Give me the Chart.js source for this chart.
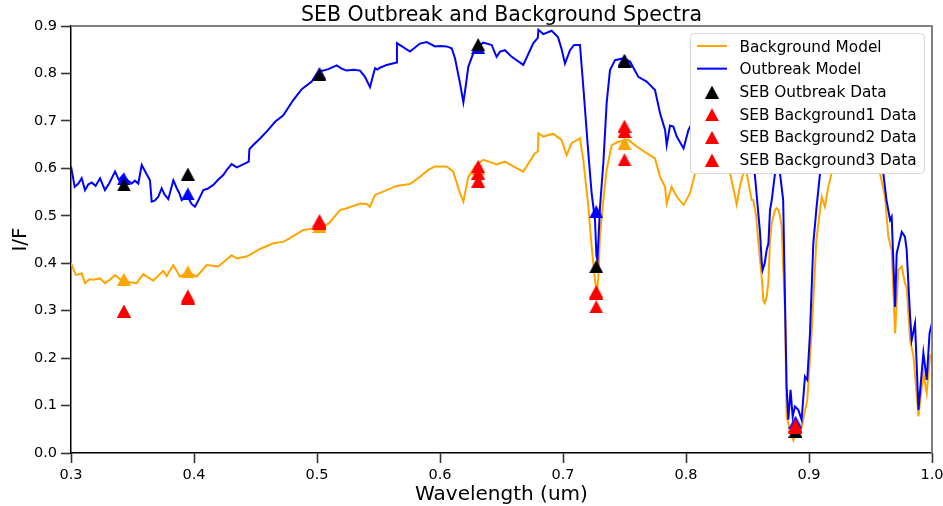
<!DOCTYPE html>
<html>
<head>
<meta charset="utf-8">
<script src="https://cdn.jsdelivr.net/npm/chart.js@4.4.1/dist/chart.umd.min.js"></script>
<style>
  body { margin: 0; background: #fff; }
  canvas { display: block; }
</style>
</head>
<body>
<canvas id="spectraChart" width="943" height="506"></canvas>
<script>
// Model spectra (wavelength in um, I/F)
const outbreakWave = [0.300, 0.303, 0.306, 0.3087, 0.3114, 0.314, 0.3168, 0.320, 0.3236, 0.3276, 0.331, 0.3358,
  0.339, 0.342, 0.346, 0.3493, 0.352, 0.3547, 0.3575, 0.360, 0.3642, 0.3656, 0.368, 0.371, 0.3737, 0.376, 0.3791,
  0.3832, 0.386, 0.388, 0.390, 0.393, 0.396, 0.398, 0.4008, 0.404, 0.4076, 0.411, 0.4157, 0.420, 0.4238, 0.427,
  0.4306, 0.4347, 0.4374, 0.4428, 0.4445, 0.445, 0.447, 0.4537, 0.460, 0.4659, 0.4726, 0.4807, 0.4876, 0.4957,
  0.5011, 0.505, 0.5092, 0.516, 0.520, 0.5241, 0.530, 0.535, 0.539, 0.5431, 0.5455, 0.5472, 0.549, 0.5512, 0.5567,
  0.5647, 0.5650, 0.5756, 0.5837, 0.5892, 0.596, 0.600, 0.6054, 0.6095, 0.6122, 0.6163, 0.619, 0.621, 0.623, 0.6285,
  0.6352, 0.642, 0.646, 0.6488, 0.6528, 0.6583, 0.6677, 0.6759, 0.6795, 0.680, 0.684, 0.6908, 0.696, 0.699, 0.7016,
  0.7057, 0.709, 0.7138, 0.7165, 0.7206, 0.7233, 0.726, 0.7272, 0.728, 0.729, 0.7301, 0.7328, 0.7355, 0.7382, 0.7423,
  0.749, 0.7545, 0.7612, 0.768, 0.7748, 0.7789, 0.783, 0.7843, 0.787, 0.7897, 0.7925, 0.798, 0.802, 0.810, 0.820,
  0.830, 0.840, 0.848, 0.853, 0.856, 0.8602, 0.8616, 0.8623, 0.864, 0.8656, 0.867, 0.8683, 0.8697, 0.8724, 0.8745,
  0.8764, 0.879, 0.8805, 0.8818, 0.8832, 0.885, 0.8867, 0.8886, 0.8913, 0.894, 0.8967, 0.8986, 0.9008, 0.9035,
  0.9062, 0.909, 0.915, 0.930, 0.945, 0.955, 0.9604, 0.963, 0.9659, 0.9672, 0.970, 0.9713, 0.9754, 0.978, 0.9794,
  0.9822, 0.9835, 0.9862, 0.989, 0.993, 0.9957, 0.998, 1.000];
const outbreakModel = [0.604, 0.561, 0.568, 0.579, 0.554, 0.566, 0.570, 0.563, 0.579, 0.554, 0.568, 0.593,
  0.575, 0.585, 0.575, 0.568, 0.574, 0.568, 0.607, 0.595, 0.575, 0.530, 0.532, 0.540, 0.558, 0.545, 0.535,
  0.575, 0.558, 0.548, 0.533, 0.538, 0.535, 0.525, 0.519, 0.535, 0.554, 0.557, 0.565, 0.577, 0.586, 0.598,
  0.609, 0.602, 0.605, 0.612, 0.614, 0.640, 0.646, 0.663, 0.680, 0.698, 0.712, 0.744, 0.767, 0.783,
  0.804, 0.806, 0.809, 0.817, 0.810, 0.806, 0.808, 0.806, 0.793, 0.771, 0.795, 0.811, 0.808, 0.812, 0.818,
  0.823, 0.864, 0.846, 0.863, 0.866, 0.857, 0.858, 0.857, 0.853, 0.832, 0.779, 0.739, 0.775, 0.814, 0.853,
  0.865, 0.860, 0.835, 0.846, 0.849, 0.835, 0.818, 0.864, 0.875, 0.892, 0.883, 0.890, 0.876, 0.850, 0.821,
  0.849, 0.860, 0.860, 0.772, 0.632, 0.547, 0.491, 0.415, 0.407, 0.460, 0.519, 0.611, 0.738, 0.807, 0.828,
  0.832, 0.825, 0.793, 0.783, 0.765, 0.716, 0.681, 0.649, 0.690, 0.688, 0.667, 0.642, 0.681, 0.720, 0.740,
  0.730, 0.700, 0.660, 0.620, 0.586, 0.464, 0.400, 0.386, 0.400, 0.428, 0.442, 0.512, 0.533, 0.590, 0.630,
  0.590, 0.533, 0.320, 0.140, 0.070, 0.133, 0.077, 0.098, 0.091, 0.070, 0.161, 0.154, 0.252, 0.442,
  0.520, 0.590, 0.660, 0.700, 0.690, 0.640, 0.590, 0.533, 0.491, 0.498, 0.308, 0.421, 0.466, 0.456, 0.428,
  0.287, 0.238, 0.273, 0.091, 0.211, 0.154, 0.252, 0.274];

const backgroundWave = [0.300, 0.304, 0.3087, 0.3114, 0.315, 0.318, 0.3236, 0.3276, 0.332, 0.3358, 0.340, 0.344,
  0.348, 0.3534, 0.3588, 0.3669, 0.375, 0.3778, 0.3832, 0.3886, 0.3954, 0.4022, 0.4103, 0.4198, 0.4306, 0.4347,
  0.4428, 0.4537, 0.4645, 0.4726, 0.478, 0.4889, 0.5051, 0.510, 0.5187, 0.5241, 0.535, 0.5404, 0.543, 0.5472,
  0.5567, 0.5648, 0.5756, 0.5837, 0.5905, 0.5959, 0.6054, 0.6108, 0.6163, 0.619, 0.623, 0.6285, 0.6352, 0.6434,
  0.646, 0.6528, 0.6596, 0.6677, 0.6772, 0.6795, 0.680, 0.684, 0.692, 0.6988, 0.703, 0.707, 0.7138, 0.7165, 0.7206,
  0.7233, 0.726, 0.7275, 0.729, 0.730, 0.7328, 0.7355, 0.7396, 0.745, 0.7531, 0.760, 0.768, 0.7748, 0.7789, 0.783,
  0.7843, 0.7883, 0.7925, 0.798, 0.8032, 0.8073, 0.815, 0.825, 0.832, 0.8358, 0.8385, 0.8412, 0.844, 0.8466, 0.8493,
  0.8534, 0.8547, 0.857, 0.8588, 0.8615, 0.863, 0.864, 0.8656, 0.867, 0.8683, 0.8697, 0.8724, 0.8737, 0.8751, 0.8764,
  0.8778, 0.879, 0.8805, 0.8818, 0.8846, 0.8873, 0.890, 0.894, 0.8986, 0.9021, 0.906, 0.9103, 0.913, 0.9157, 0.9184,
  0.930, 0.945, 0.955, 0.9577, 0.9618, 0.9645, 0.9672, 0.970, 0.9726, 0.9754, 0.978, 0.9794, 0.9822, 0.985, 0.989,
  0.993, 0.9957, 0.9984, 1.000];
const backgroundModel = [0.400, 0.375, 0.379, 0.358, 0.366, 0.365, 0.368, 0.358, 0.366, 0.375, 0.366, 0.362,
  0.360, 0.358, 0.377, 0.363, 0.384, 0.373, 0.396, 0.372, 0.380, 0.372, 0.396, 0.393, 0.417, 0.410,
  0.414, 0.430, 0.442, 0.445, 0.453, 0.470, 0.476, 0.485, 0.512, 0.516, 0.526, 0.525, 0.519, 0.544,
  0.554, 0.563, 0.567, 0.582, 0.597, 0.604, 0.604, 0.593, 0.547, 0.530, 0.582, 0.604, 0.618, 0.611,
  0.608, 0.614, 0.604, 0.593, 0.632, 0.635, 0.674, 0.667, 0.673, 0.660, 0.628, 0.653, 0.663, 0.618, 0.519,
  0.435, 0.365, 0.335, 0.380, 0.456, 0.533, 0.597, 0.649, 0.656, 0.660, 0.646, 0.632, 0.621, 0.582, 0.561,
  0.526, 0.561, 0.540, 0.523, 0.547, 0.589, 0.615, 0.620, 0.605, 0.590, 0.558, 0.524, 0.564, 0.590, 0.590,
  0.533, 0.533, 0.500, 0.445, 0.372, 0.320, 0.316, 0.329, 0.360, 0.449, 0.484, 0.512, 0.516, 0.512, 0.500,
  0.477, 0.393, 0.300, 0.077, 0.048, 0.027, 0.045, 0.055, 0.112, 0.252, 0.449, 0.540, 0.519, 0.561, 0.590,
  0.630, 0.630, 0.610, 0.590, 0.540, 0.456, 0.428, 0.252, 0.386, 0.393, 0.358, 0.350, 0.238, 0.203, 0.077,
  0.168, 0.126, 0.203, 0.210];

// Measured points at the filter wavelengths
const dataWave = [0.343, 0.395, 0.502, 0.631, 0.727, 0.750, 0.889];
const outbreakData = [0.565, 0.588, 0.797, 0.861, 0.393, 0.826, 0.046];
const background1Data = [0.298, 0.331, 0.490, 0.604, 0.337, 0.689, 0.058];
const background2Data = [0.298, 0.326, 0.486, 0.590, 0.340, 0.678, 0.055];
const background3Data = [0.298, 0.328, 0.484, 0.573, 0.308, 0.618, 0.054];
// Models sampled at the same wavelengths (no legend entry)
const outbreakModelAtData = [0.578, 0.546, 0.800, 0.855, 0.509, 0.828, 0.065];
const backgroundModelAtData = [0.366, 0.382, 0.478, 0.600, 0.338, 0.653, 0.055];

const xTicks = [0.3, 0.4, 0.5, 0.6, 0.7, 0.8, 0.9, 1.0];
const yTicks = [0.0, 0.1, 0.2, 0.3, 0.4, 0.5, 0.6, 0.7, 0.8, 0.9];

const FONT = '"DejaVu Sans", sans-serif';

function pairs(xs, ys) {
  return xs.map((x, i) => ({ x: x, y: ys[i] }));
}

// matplotlib style '^' marker, centred on its bounding box
function triangle(color) {
  const c = document.createElement('canvas');
  c.width = 14;
  c.height = 13;
  const g = c.getContext('2d');
  g.fillStyle = color;
  g.beginPath();
  g.moveTo(7, 0);
  g.lineTo(14, 13);
  g.lineTo(0, 13);
  g.closePath();
  g.fill();
  return c;
}

function lineSet(label, xs, ys, color, order) {
  return {
    label: label, data: pairs(xs, ys), showLine: true, borderColor: color, backgroundColor: color,
    borderWidth: 2, pointRadius: 0, tension: 0, order: order
  };
}

function markerSet(label, ys, color, order) {
  return {
    label: label, data: pairs(dataWave, ys), showLine: false, borderColor: color, backgroundColor: color,
    pointStyle: triangle(color), pointRadius: 7, order: order
  };
}

// title, axis labels, grey top/right spines and the in-axes legend
const decorations = {
  id: 'decorations',
  afterDatasetsDraw(chart) {
    const { ctx, chartArea: a } = chart;
    ctx.save();
    ctx.strokeStyle = '#808080';
    ctx.lineWidth = 2;
    ctx.beginPath();
    ctx.moveTo(a.left, a.top);
    ctx.lineTo(a.right, a.top);
    ctx.lineTo(a.right, a.bottom);
    ctx.stroke();

    // legend box
    const bx = 690, by = 33, bw = 234, bh = 140;
    ctx.beginPath();
    ctx.roundRect(bx + 0.5, by + 0.5, bw, bh, 4);
    ctx.fillStyle = '#ffffff';
    ctx.fill();
    ctx.strokeStyle = '#d6d6d6';
    ctx.lineWidth = 1;
    ctx.stroke();

    const entries = chart.data.datasets.filter(d => d.label);
    entries.sort((p, q) => q.order - p.order);
    ctx.font = '15.3px ' + FONT;
    ctx.textAlign = 'left';
    ctx.textBaseline = 'alphabetic';
    entries.forEach((d, i) => {
      const base = 51.8 + i * 22.65;
      if (d.showLine) {
        ctx.strokeStyle = d.borderColor;
        ctx.lineWidth = 2;
        ctx.beginPath();
        ctx.moveTo(697, base - 5.8);
        ctx.lineTo(727, base - 5.8);
        ctx.stroke();
      } else {
        ctx.drawImage(d.pointStyle, 712 - 7, base - 5 - 6.5);
      }
      ctx.fillStyle = '#000';
      ctx.fillText(d.label, 739.5, base);
    });
    ctx.restore();
  },
  afterDraw(chart) {
    const { ctx, chartArea: a } = chart;
    const cx = (a.left + a.right) / 2;
    ctx.save();
    ctx.fillStyle = '#000';
    ctx.textAlign = 'center';
    ctx.textBaseline = 'alphabetic';
    ctx.font = '20.5px ' + FONT;
    ctx.fillText('SEB Outbreak and Background Spectra', cx, 21);
    ctx.font = '20px ' + FONT;
    ctx.fillText('Wavelength (um)', cx, 500);
    ctx.translate(26, (a.top + a.bottom) / 2);
    ctx.rotate(-Math.PI / 2);
    ctx.fillText('I/F', 0, 0);
    ctx.restore();
  }
};

const axisStyle = {
  grid: { drawOnChartArea: false, drawTicks: true, tickLength: 10, tickWidth: 1.6, tickColor: '#333' },
  border: { color: '#000', width: 1.5 }
};

new Chart(document.getElementById('spectraChart'), {
  type: 'scatter',
  data: {
    datasets: [
      lineSet('Background Model', backgroundWave, backgroundModel, '#FFA500', 9),
      lineSet('Outbreak Model', outbreakWave, outbreakModel, '#0000FF', 8),
      markerSet('', backgroundModelAtData, '#FFA500', 6),
      markerSet('', outbreakModelAtData, '#0000FF', 5),
      markerSet('SEB Outbreak Data', outbreakData, '#000000', 4),
      markerSet('SEB Background1 Data', background1Data, '#FF0000', 3),
      markerSet('SEB Background2 Data', background2Data, '#FF0000', 2),
      markerSet('SEB Background3 Data', background3Data, '#FF0000', 1)
    ]
  },
  options: {
    responsive: false,
    animation: false,
    devicePixelRatio: 1,
    events: [],
    layout: { padding: { left: 0, right: 11, top: 26, bottom: 0 } },
    plugins: { legend: { display: false }, title: { display: false }, tooltip: { enabled: false } },
    scales: {
      x: {
        type: 'linear', min: 0.3, max: 1.0,
        afterBuildTicks: s => { s.ticks = xTicks.map(v => ({ value: v })); },
        afterFit: s => { s.height = 53; s.paddingLeft = 0; s.paddingRight = 0; },
        ticks: { font: { family: FONT, size: 14.5 }, color: '#000', padding: 4, maxRotation: 0,
          callback: v => v.toFixed(1) },
        ...axisStyle
      },
      y: {
        type: 'linear', min: 0, max: 0.9,
        afterBuildTicks: s => { s.ticks = yTicks.map(v => ({ value: v })); },
        afterFit: s => { s.width = 71; s.paddingTop = 0; s.paddingBottom = 0; },
        ticks: { font: { family: FONT, size: 14.5 }, color: '#000', padding: 4,
          callback: v => v.toFixed(1) },
        ...axisStyle
      }
    }
  },
  plugins: [decorations]
});
</script>
</body>
</html>
